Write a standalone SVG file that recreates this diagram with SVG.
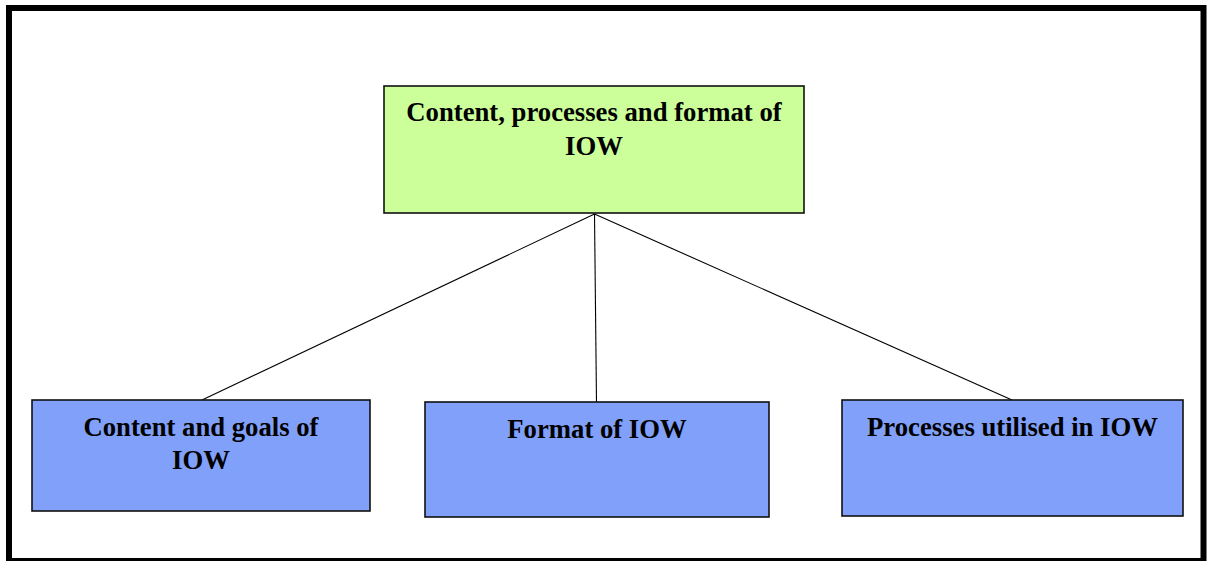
<svg xmlns="http://www.w3.org/2000/svg" width="1214" height="561" viewBox="0 0 1214 561">
<style>
.box{stroke:#111;stroke-width:1.6}
.top{fill:#CCFF99}
.sub{fill:#80A0FA}
.lbl{font-family:"Liberation Serif","Times New Roman",serif;font-weight:bold;font-size:26.7px;fill:#000;text-anchor:middle}
.conn{stroke:#000;stroke-width:1.1;fill:none}
</style>
<rect x="9" y="8" width="1194.5" height="553" fill="#fff" stroke="#000" stroke-width="6"/>
<g id="connectors">
<line class="conn" x1="594.5" y1="214" x2="202" y2="400"/>
<line class="conn" x1="594.5" y1="214" x2="596.5" y2="402"/>
<line class="conn" x1="594.5" y1="214" x2="1012" y2="400"/>
</g>
<g id="node-root">
<rect class="box top" x="384" y="86" width="420" height="127"/>
<text class="lbl" x="594" y="121">Content, processes and format of</text>
<text class="lbl" x="594" y="155">IOW</text>
</g>
<g id="node-content">
<rect class="box sub" x="32" y="400" width="338" height="111"/>
<text class="lbl" x="201" y="436">Content and goals of</text>
<text class="lbl" x="201" y="469">IOW</text>
</g>
<g id="node-format">
<rect class="box sub" x="425" y="402" width="344" height="115"/>
<text class="lbl" x="597" y="438">Format of IOW</text>
</g>
<g id="node-processes">
<rect class="box sub" x="842" y="400" width="341" height="116"/>
<text class="lbl" x="1012.5" y="436">Processes utilised in IOW</text>
</g>
</svg>
